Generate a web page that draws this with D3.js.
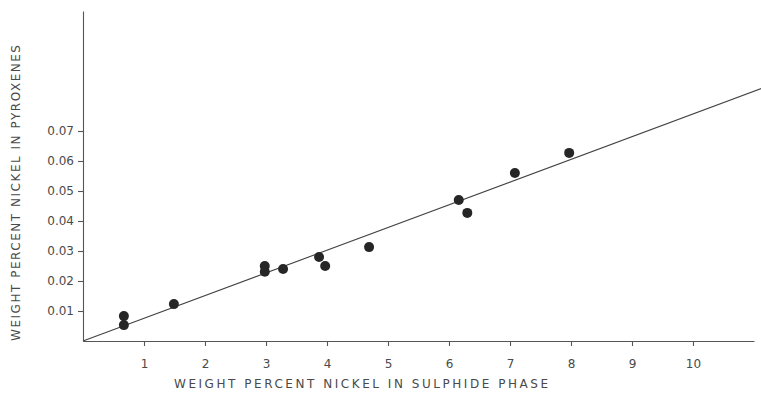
<!DOCTYPE html>
<html>
<head>
<meta charset="utf-8">
<script src="https://cdn.jsdelivr.net/npm/d3@7"></script>
<style>
  body { margin: 0; background: #fff; }
  text { font-family: "DejaVu Sans", sans-serif; fill: #4a4a4a; }
  .axis path, .axis line { stroke: #555; stroke-width: 1.1; }
</style>
</head>
<body>
<script>
// nickel in sulphide phase (wt %) vs nickel in pyroxenes (wt %)
const sulphideNi = [0.67, 0.67, 1.49, 2.98, 2.98, 3.28, 3.87, 3.97, 4.69, 6.16, 6.30, 7.08, 7.97];
const pyroxeneNi = [0.0083, 0.0053, 0.0123, 0.0250, 0.0231, 0.0240, 0.0280, 0.0250, 0.0313, 0.0470, 0.0427, 0.0560, 0.0627];

// fitted line drawn through origin
const fitX = [0, 11.3];
const fitY = [0, 0.0855];

const xTicks = [1, 2, 3, 4, 5, 6, 7, 8, 9, 10];
const yTicks = [0.01, 0.02, 0.03, 0.04, 0.05, 0.06, 0.07];
const yTickLabels = ["0.01", "0.02", "0.03", "0.04", "0.05", "0.06", "0.07"];

const width = 761, height = 397;

let xScale = d3.scaleLinear().domain([0, 11]).range([83, 754]);
let yScale = d3.scaleLinear().domain([0, 0.11]).range([341, 11]);

let svg = d3.select("body").append("svg")
    .attr("width", width)
    .attr("height", height);

// X axis
let xAxis = d3.axisBottom(xScale)
    .tickValues(xTicks)
    .tickSize(5)
    .tickSizeOuter(0)
    .tickPadding(13)
    .tickFormat(d => String(d));

let gx = svg.append("g")
    .attr("class", "axis")
    .attr("transform", "translate(0," + yScale(0) + ")")
    .call(xAxis);
gx.selectAll("text").attr("font-size", 12).style("fill", "#4a4a4a");

// Y axis
let yAxis = d3.axisLeft(yScale)
    .tickValues(yTicks)
    .tickSize(5)
    .tickSizeOuter(0)
    .tickPadding(4)
    .tickFormat((d, i) => yTickLabels[i]);

let gy = svg.append("g")
    .attr("class", "axis")
    .attr("transform", "translate(" + xScale(0) + ",0)")
    .call(yAxis);
gy.selectAll("text").attr("font-size", 12).style("fill", "#4a4a4a");

// fitted line
let line = d3.line()
    .x((d, i) => xScale(d))
    .y((d, i) => yScale(fitY[i]));

svg.append("path")
    .datum(fitX)
    .attr("fill", "none")
    .attr("stroke", "#444")
    .attr("stroke-width", 1.1)
    .attr("d", line);

// points
svg.selectAll(".dot")
    .data(sulphideNi)
    .enter().append("circle")
    .attr("class", "dot")
    .attr("cx", d => xScale(d))
    .attr("cy", (d, i) => yScale(pyroxeneNi[i]))
    .attr("r", 5)
    .attr("fill", "#262626");

// axis titles
svg.append("text")
    .attr("x", 174)
    .attr("y", 388)
    .attr("font-size", 12)
    .attr("textLength", 374)
    .attr("lengthAdjust", "spacing")
    .text("WEIGHT PERCENT NICKEL IN SULPHIDE PHASE");

svg.append("text")
    .attr("transform", "translate(20,341) rotate(-90)")
    .attr("font-size", 12)
    .attr("textLength", 296)
    .attr("lengthAdjust", "spacing")
    .text("WEIGHT PERCENT NICKEL IN PYROXENES");
</script>
</body>
</html>
